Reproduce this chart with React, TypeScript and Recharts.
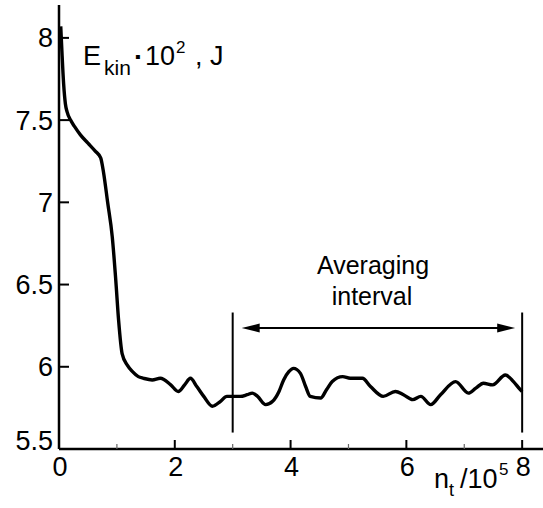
import { LineChart, Line, XAxis, YAxis, ReferenceLine } from 'recharts';

// n_t / 10^5
const nt = [
  0.03, 0.05, 0.08, 0.11, 0.14, 0.2, 0.27, 0.37, 0.5, 0.63, 0.72, 0.77, 0.84, 0.92, 0.98,
  1.03, 1.09, 1.18, 1.27, 1.37, 1.46, 1.61, 1.75, 1.93, 2.06, 2.17, 2.27, 2.38, 2.5, 2.65,
  2.79, 2.9, 3.01, 3.13, 3.25, 3.34, 3.43, 3.57, 3.69, 3.8, 3.88, 3.97, 4.05, 4.17, 4.26,
  4.34, 4.52, 4.62, 4.72, 4.9, 5.03, 5.24, 5.38, 5.6, 5.81, 5.95, 6.11, 6.25, 6.42, 6.59,
  6.85, 7.07, 7.2, 7.33, 7.49, 7.71, 7.85, 7.97, 8.0,
];
// E_kin * 10^2, J
const ekin = [
  8.07, 7.92, 7.72, 7.6, 7.55, 7.5, 7.46, 7.41, 7.36, 7.31, 7.27, 7.18, 7.0, 6.79, 6.53,
  6.28, 6.08, 6.01, 5.97, 5.94, 5.93, 5.92, 5.93, 5.89, 5.85, 5.89, 5.93, 5.88, 5.82, 5.76,
  5.79, 5.82, 5.82, 5.82, 5.83, 5.84, 5.82, 5.77, 5.79, 5.85, 5.92, 5.97, 5.99, 5.96, 5.88,
  5.82, 5.81, 5.86, 5.91, 5.94, 5.93, 5.93, 5.88, 5.82, 5.85, 5.83, 5.8, 5.82, 5.77, 5.83,
  5.91, 5.84, 5.87, 5.9, 5.89, 5.95, 5.91, 5.86, 5.85,
];

const xTicks = [0, 1, 2, 3, 4, 5, 6, 7, 8];
const yTicks = [5.5, 6, 6.5, 7, 7.5, 8];

// averaging interval
const avgStart = 3;
const avgEnd = 8;
const markerLow = 5.6;
const markerHigh = 6.33;
const arrowLevel = 6.236;

const data = nt.map((x, i) => ({ x, e: ekin[i] }));

const FONT = '"Liberation Sans", Arial, sans-serif';

function XTick(props: any) {
  const { x, y, payload } = props;
  const v = payload.value;
  const major = v % 2 === 0;
  return (
    <g>
      <line
        x1={x}
        x2={x}
        y1={y}
        y2={y - (major ? 9 : 5)}
        stroke={major ? '#000' : '#666'}
        strokeWidth={major ? 2 : 1.2}
      />
      {major && (
        <text x={x + 1} y={y + 27} textAnchor="middle" fontSize={27} fontFamily={FONT} fill="#000">
          {v}
        </text>
      )}
    </g>
  );
}

function YTick(props: any) {
  const { x, y, payload } = props;
  const v = payload.value;
  // bottom label sits a bit higher, as in the original
  const dy = v === 5.5 ? 1 : 9.5;
  return (
    <g>
      <line x1={x} x2={x + 10} y1={y} y2={y} stroke="#000" strokeWidth={2} />
      <text x={x - 6} y={y + dy} textAnchor="end" fontSize={27} fontFamily={FONT} fill="#000">
        {v}
      </text>
    </g>
  );
}

function ArrowShape(p: any) {
  const { x1, y1, x2, y2 } = p;
  const a = x1 + 9;
  const b = x2 - 7;
  const len = 18;
  const hw = 4.5;
  return (
    <g>
      <line x1={a + len - 2} y1={y1} x2={b - len + 2} y2={y2} stroke="#000" strokeWidth={2} />
      <path d={`M${a},${y1} L${a + len},${y1 - hw} L${a + len},${y1 + hw} Z`} fill="#000" />
      <path d={`M${b},${y2} L${b - len},${y2 - hw} L${b - len},${y2 + hw} Z`} fill="#000" />
    </g>
  );
}

export default function App() {
  return (
    <div style={{ position: 'absolute', left: 0, top: 0, width: 543, height: 508, background: '#fff' }}>
      <LineChart width={543} height={508} data={data} margin={{ top: 5, right: 0, bottom: 0, left: 0 }}>
        <XAxis
          dataKey="x"
          type="number"
          domain={[0, 8.36]}
          ticks={xTicks}
          interval={0}
          height={59}
          tickSize={0}
          tickMargin={0}
          tickLine={false}
          tick={<XTick />}
          axisLine={{ stroke: '#000', strokeWidth: 2.5 }}
          allowDataOverflow
        />
        <YAxis
          type="number"
          domain={[5.5, 8.2]}
          ticks={yTicks}
          interval={0}
          width={59}
          tickSize={0}
          tickMargin={0}
          tickLine={false}
          tick={<YTick />}
          axisLine={{ stroke: '#000', strokeWidth: 2.5 }}
          allowDataOverflow
        />
        <ReferenceLine
          segment={[{ x: avgStart, y: markerLow }, { x: avgStart, y: markerHigh }]}
          stroke="#000"
          strokeWidth={2}
        />
        <ReferenceLine
          segment={[{ x: avgEnd, y: markerLow }, { x: avgEnd, y: markerHigh }]}
          stroke="#000"
          strokeWidth={2}
        />
        <ReferenceLine
          segment={[{ x: avgStart, y: arrowLevel }, { x: avgEnd, y: arrowLevel }]}
          shape={ArrowShape}
        />
        <Line
          dataKey="e"
          type="monotone"
          stroke="#000"
          strokeWidth={3.4}
          dot={false}
          isAnimationActive={false}
        />
      </LineChart>
      <svg
        width={543}
        height={508}
        style={{ position: 'absolute', left: 0, top: 0, pointerEvents: 'none' }}
        fontFamily={FONT}
        fill="#000"
      >
        <text x={83} y={65} fontSize={27}>E</text>
        <text x={104} y={75} fontSize={21}>kin</text>
        <text x={135} y={62} fontSize={16}>▪</text>
        <text x={145} y={65} fontSize={27}>10</text>
        <text x={176} y={53} fontSize={17}>2</text>
        <text x={195} y={65} fontSize={27}>, J</text>

        <text x={373} y={274} fontSize={25} textAnchor="middle">Averaging</text>
        <text x={372} y={305} fontSize={25} textAnchor="middle">interval</text>

        <text x={434} y={488} fontSize={27}>n</text>
        <text x={449} y={496} fontSize={18}>t</text>
        <text x={460} y={488} fontSize={27}>/10</text>
        <text x={499} y={475} fontSize={17}>5</text>
      </svg>
    </div>
  );
}
